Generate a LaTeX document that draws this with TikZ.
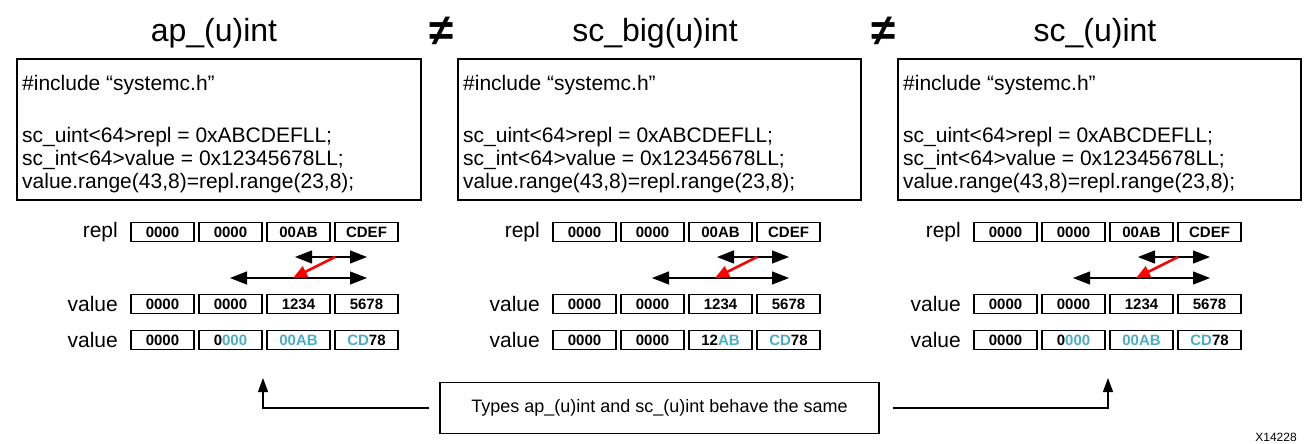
\documentclass[tikz,border=0pt]{standalone}
\usepackage{fontspec}
\setmainfont{Liberation Sans}
\usetikzlibrary{arrows.meta}
\definecolor{hl}{HTML}{4BACC6}
\definecolor{redarr}{HTML}{FF0000}
\tikzset{
  codebox/.style={draw, line width=2pt, anchor=north west, inner sep=0pt},
  codeline/.style={anchor=base west, inner sep=0pt, font=\fontsize{21}{24}\selectfont},
  cell/.style={draw, line width=1.3pt, minimum width=63pt, minimum height=19pt, inner sep=0pt, font=\fontsize{15}{15}\selectfont\bfseries},
  lbl/.style={anchor=east, inner sep=0pt, font=\fontsize{21}{21}\selectfont},
  title/.style={inner sep=0pt, font=\fontsize{32}{32}\selectfont},
  neq/.style={inner sep=0pt, font=\fontsize{44}{44}\selectfont\bfseries},
  rng/.style={line width=1.3pt, {Triangle[length=17pt,width=13pt]}-{Triangle[length=17pt,width=13pt]}},
  redarrow/.style={draw=redarr, line width=2.5pt, -{Triangle[length=14pt,width=12pt]}, redarr},
  note/.style={draw, line width=1.5pt, minimum width=439pt, minimum height=51pt, inner sep=0pt, font=\fontsize{18}{18}\selectfont},
  link/.style={line width=1.3pt, -{Triangle[length=14pt,width=10pt]}}
}
\newcommand\hlt[1]{\textcolor{hl}{#1}}
% #1 prefix, #2 dx, #3..#6 row-3 contents
\newcommand\mypanel[6]{%
  \node[lbl] (#1lr) at (118+#2,232) {repl};
  \node[cell] (#1a1) at (162.5+#2,232) {0000};
  \node[cell] (#1a2) at (230.5+#2,232) {0000};
  \node[cell] (#1a3) at (298.5+#2,232) {00AB};
  \node[cell] (#1a4) at (366.5+#2,232) {CDEF};
  \node[lbl] (#1lv) at (118+#2,304) {value};
  \node[cell] (#1b1) at (162.5+#2,304) {0000};
  \node[cell] (#1b2) at (230.5+#2,304) {0000};
  \node[cell] (#1b3) at (298.5+#2,304) {1234};
  \node[cell] (#1b4) at (366.5+#2,304) {5678};
  \node[lbl] (#1lw) at (118+#2,340) {value};
  \node[cell] (#1c1) at (162.5+#2,340) {#3};
  \node[cell] (#1c2) at (230.5+#2,340) {#4};
  \node[cell] (#1c3) at (298.5+#2,340) {#5};
  \node[cell] (#1c4) at (366.5+#2,340) {#6};
  \coordinate (#1u1) at (295+#2,257);
  \coordinate (#1u2) at (367+#2,257);
  \coordinate (#1d1) at (230+#2,278);
  \coordinate (#1d2) at (367+#2,278);
  \coordinate (#1rs) at (335+#2,257);
  \coordinate (#1re) at (293+#2,278);
  \draw[rng] (#1u1) -- (#1u2);
  \draw[rng] (#1d1) -- (#1d2);
  \draw[redarrow] (#1rs) -- (#1re);
}
\newcommand\mycode[3]{% #1 prefix, #2 box left, #3 box right
  \node[codebox, minimum width=#3-#2, minimum height=141pt] (#1box) at (#2,58) {};
  \node[codeline] (#1l1) at (#2+6,91) {\#include “systemc.h”};
  \node[codeline] (#1l2) at (#2+6,142) {sc\_uint<64>repl = 0xABCDEFLL;};
  \node[codeline] (#1l3) at (#2+6,165) {sc\_int<64>value = 0x12345678LL;};
  \node[codeline] (#1l4) at (#2+6,188) {value.range(43,8)=repl.range(23,8);};
}
\begin{document}
\begin{tikzpicture}[x=1pt,y=-1pt]
\useasboundingbox (0,0) rectangle (1310,444);
% titles
\node[title] (t1) at (214,33) {ap\_(u)int};
\node[title] (t2) at (655,33) {sc\_big(u)int};
\node[title] (t3) at (1095,33) {sc\_(u)int};
\node[neq] (n1) at (442,31) {≠};
\node[neq] (n2) at (884,31) {≠};
% code boxes
\mycode{p}{16}{420}
\mycode{q}{457}{860}
\mycode{r}{897}{1300}
% panels
\mypanel{p}{0}{0000}{0\hlt{000}}{\hlt{00AB}}{\hlt{CD}78}
\mypanel{q}{422}{0000}{0000}{12\hlt{AB}}{\hlt{CD}78}
\mypanel{r}{843}{0000}{0\hlt{000}}{\hlt{00AB}}{\hlt{CD}78}
% note
\node[note] (nt) at (659.5,408) {Types ap\_(u)int and sc\_(u)int behave the same};
\coordinate (al) at (263,378);
\coordinate (ar) at (1108,378);
\draw[link] ([xshift=-10pt]nt.west) -| (al);
\draw[link] ([xshift=13pt]nt.east) -| (ar);
\node[inner sep=0pt, font=\fontsize{12}{12}\selectfont] (fig) at (1276,437) {X14228};
\end{tikzpicture}
\end{document}
